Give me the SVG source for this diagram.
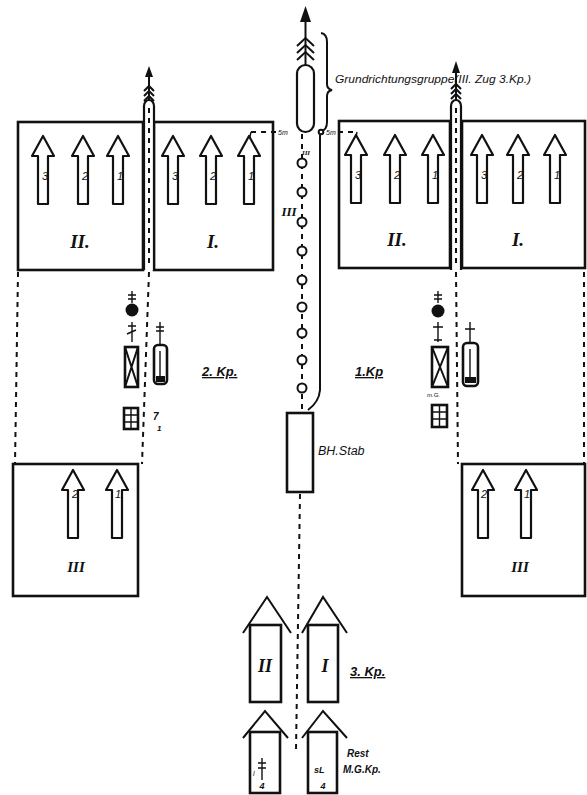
<svg xmlns="http://www.w3.org/2000/svg" width="587" height="795" viewBox="0 0 587 795">
<style>
.box{fill:none;stroke:#111;stroke-width:2.6}
.ln{fill:none;stroke:#111;stroke-width:2}
.thin{fill:none;stroke:#111;stroke-width:1.4}
.dash{fill:none;stroke:#111;stroke-width:2;stroke-dasharray:5 5}
.fill{fill:#111;stroke:none}
.cap{fill:#fff;stroke:#111;stroke-width:2.2}
.circ{fill:#fff;stroke:#111;stroke-width:2}
.lbl{font-family:"Liberation Sans",Arial,sans-serif;font-style:italic;fill:#111}
.num{font-family:"Liberation Sans",Arial,sans-serif;font-style:italic;font-size:11px;fill:#111;text-anchor:middle}
.rom{font-family:"Liberation Serif","Times New Roman",serif;font-style:italic;font-weight:bold;fill:#111;text-anchor:middle}
.kp{font-family:"Liberation Sans",Arial,sans-serif;font-style:italic;font-weight:bold;font-size:13px;fill:#111;text-decoration:underline}
</style>
<defs>
<path id="arr" d="M-5,68 V20 H-11 L0,0 L11,20 H5 V68 Z" fill="#fff" stroke="#111" stroke-width="2.2" stroke-linejoin="round"/>
<g id="feath" class="ln"><path d="M-5,5 L0,0 L5,5"/></g>
</defs>
<rect width="587" height="795" fill="#fff"/>

<g id="connectors">
<path class="dash" d="M18,272 L15,464"/>
<path class="dash" d="M149,272 L142,464"/>
<path class="dash" d="M456,272 L458,464"/>
<path class="dash" d="M584,272 L584,464"/>
<path class="dash" d="M302,134 L302,413" stroke-dasharray="3 5"/>
<path class="dash" d="M300,494 L296,750" stroke-dasharray="6 5"/>
<path class="dash" d="M251,132 H277" stroke-dasharray="4 3"/>
<path class="thin" d="M251,132 L249,141"/>
<path class="dash" d="M338,132 H357" stroke-dasharray="4 3"/>
<path class="thin" d="M357,132 L355,141"/>
<path class="ln" d="M320,135 V390 Q319,402 308,410"/>
</g>

<g id="kp2-zug2">
<rect class="box" x="18" y="122" width="125" height="148"/>
<use href="#arr" x="43" y="136"/><use href="#arr" x="83" y="136"/><use href="#arr" x="118" y="136"/>
<text class="num" x="45" y="180">3</text><text class="num" x="85" y="180">2</text><text class="num" x="120" y="180">1</text>
<text class="rom" x="80" y="248" font-size="19">II.</text>
</g>
<g id="kp2-zug1">
<rect class="box" x="154" y="122" width="119" height="148"/>
<use href="#arr" x="173" y="136"/><use href="#arr" x="211" y="136"/><use href="#arr" x="249" y="136"/>
<text class="num" x="175" y="180">3</text><text class="num" x="213" y="180">2</text><text class="num" x="251" y="180">1</text>
<text class="rom" x="213" y="248" font-size="19">I.</text>
</g>
<g id="kp2-spitze">
<path class="cap" d="M144,270 V106 A5,6 0 0 1 154,106 V270"/>
<path class="dash" d="M149,108 V268" stroke-width="1.2" stroke-dasharray="2 5"/>
<path class="ln" d="M149,100 V74"/>
<polygon class="fill" points="149,66 145,77 153,77"/>
<use href="#feath" x="149" y="86"/><use href="#feath" x="149" y="91"/><use href="#feath" x="149" y="96"/>
</g>

<g id="kp1-zug2">
<rect class="box" x="339" y="121" width="111" height="147"/>
<use href="#arr" x="356" y="135"/><use href="#arr" x="395" y="135"/><use href="#arr" x="433" y="135"/>
<text class="num" x="358" y="179">3</text><text class="num" x="397" y="179">2</text><text class="num" x="435" y="179">1</text>
<text class="rom" x="397" y="246" font-size="19">II.</text>
</g>
<g id="kp1-zug1">
<rect class="box" x="462" y="121" width="123" height="147"/>
<use href="#arr" x="482" y="135"/><use href="#arr" x="518" y="135"/><use href="#arr" x="555" y="135"/>
<text class="num" x="484" y="179">3</text><text class="num" x="520" y="179">2</text><text class="num" x="557" y="179">1</text>
<text class="rom" x="518" y="246" font-size="19">I.</text>
</g>
<g id="kp1-spitze">
<path class="cap" d="M451,270 V106 A5,6 0 0 1 461,106 V270"/>
<path class="dash" d="M456,108 V268" stroke-width="1.2" stroke-dasharray="2 5"/>
<path class="ln" d="M456,100 V70"/>
<polygon class="fill" points="456,61 452,73 460,73"/>
<use href="#feath" x="456" y="84"/><use href="#feath" x="456" y="89"/><use href="#feath" x="456" y="94"/>
</g>

<g id="grundrichtungsgruppe">
<rect class="cap" x="297" y="65" width="17" height="67" rx="8.5"/>
<path class="ln" d="M305.5,65 V18"/>
<polygon class="fill" points="305.5,6 300,22 311,22"/>
<path class="ln" d="M297,46 L305.5,38 L314,46 M297,53 L305.5,45 L314,53 M297,60 L305.5,52 L314,60"/>
<path class="ln" d="M321,33 Q327,34 327,42 V84 Q327,89 332,90 Q327,91 327,96 V122 Q327,130 321,131"/>
<text class="lbl" x="335" y="83" font-size="11" textLength="196" lengthAdjust="spacingAndGlyphs">Grundrichtungsgruppe(III. Zug 3.Kp.)</text>
<text class="lbl" x="278" y="135" font-size="7">5m</text>
<circle class="circ" cx="321" cy="132" r="2.3" stroke-width="1.4"/>
<text class="lbl" x="326" y="135" font-size="7">5m</text>
</g>

<g id="zug3-kolonne">
<circle class="circ" cx="302" cy="163" r="4.5"/>
<circle class="circ" cx="302" cy="192" r="4.5"/>
<circle class="circ" cx="302" cy="222" r="4.5"/>
<circle class="circ" cx="302" cy="251" r="4.5"/>
<circle class="circ" cx="302" cy="280" r="4.5"/>
<circle class="circ" cx="302" cy="307" r="4.5"/>
<circle class="circ" cx="302" cy="333" r="4.5"/>
<circle class="circ" cx="302" cy="360" r="4.5"/>
<circle class="circ" cx="302" cy="388" r="4.5"/>
<text class="rom" x="289" y="216" font-size="13">III</text>
<text class="rom" x="306" y="155" font-size="7">III</text>
</g>

<g id="bh-stab">
<rect class="box" x="287" y="413" width="26" height="79"/>
<text class="lbl" x="318" y="455" font-size="12.5">BH.Stab</text>
</g>

<g id="kp2-stab">
<path class="thin" d="M132,291 V303 M128,295 H136 M128,299 H136"/>
<circle class="fill" cx="132" cy="310" r="6.5"/>
<path class="thin" d="M132,322 V342 M128,326 H136 M127,334 L136,330"/>
<rect class="box" x="125" y="347" width="13" height="40"/>
<path class="ln" d="M125,347 L138,387 M138,347 L125,387"/>
<rect class="box" x="124" y="408" width="14" height="21" stroke-width="2"/>
<path class="thin" d="M131,408 V429 M124,415 H138 M124,422 H138"/>
<path class="thin" d="M160,322 V345 M156,327 H164 M156,331 H164"/>
<rect class="box" x="154" y="345" width="13" height="39" rx="4" stroke-width="2.2"/>
<path class="thin" d="M160,351 V376"/>
<rect class="fill" x="156" y="376" width="9" height="6"/>
<text class="lbl" x="153" y="420" font-size="10" font-weight="bold">7</text>
<text class="lbl" x="157" y="431" font-size="8" font-weight="bold">1</text>
<text class="kp" x="202" y="376">2. Kp.</text>
</g>

<g id="kp1-stab">
<path class="thin" d="M438,291 V303 M434,295 H442 M434,299 H442"/>
<circle class="fill" cx="438" cy="311" r="6.5"/>
<path class="thin" d="M438,322 V342 M433,327 H443 M434,340 H442"/>
<rect class="box" x="432" y="347" width="16" height="40"/>
<path class="ln" d="M432,347 L448,387 M448,347 L432,387"/>
<text class="lbl" x="427" y="397" font-size="6">m.G.</text>
<rect class="box" x="432" y="405" width="15" height="22" stroke-width="2"/>
<path class="thin" d="M439.5,405 V427 M432,412 H447 M432,419 H447"/>
<path class="thin" d="M470,322 V343 M465,329 H475"/>
<rect class="box" x="463" y="343" width="15" height="43" rx="4" stroke-width="2.2"/>
<path class="thin" d="M470,349 V377"/>
<rect class="fill" x="465" y="377" width="11" height="6"/>
<text class="kp" x="355" y="376">1.Kp</text>
</g>

<g id="kp2-zug3">
<rect class="box" x="13" y="464" width="125" height="132"/>
<use href="#arr" x="73" y="470"/><use href="#arr" x="117" y="470"/>
<text class="num" x="75" y="498">2</text><text class="num" x="118" y="498">1</text>
<text class="rom" x="76" y="572" font-size="15">III</text>
</g>

<g id="kp1-zug3">
<rect class="box" x="462" y="464" width="123" height="132"/>
<use href="#arr" x="483" y="470"/><use href="#arr" x="526" y="470"/>
<text class="num" x="484" y="498">2</text><text class="num" x="527" y="498">1</text>
<text class="rom" x="520" y="572" font-size="15">III</text>
</g>

<g id="kp3-zug2">
<path class="ln" d="M243,633 L267,597 L291,633" stroke-width="2.4"/>
<rect class="box" x="250" y="625" width="31" height="77" fill="#fff"/>
<text class="rom" x="265" y="672" font-size="18">II</text>
</g>
<g id="kp3-zug1">
<path class="ln" d="M302,633 L323,597 L347,633" stroke-width="2.4"/>
<rect class="box" x="308" y="625" width="30" height="77"/>
<text class="rom" x="325" y="672" font-size="18">I</text>
</g>
<text class="kp" x="350" y="676" font-size="15">3. Kp.</text>

<g id="mg-rest-links">
<path class="ln" d="M243,738 L265,711 L288,738" stroke-width="2.4"/>
<rect class="box" x="250" y="732" width="30" height="61"/>
<path class="thin" d="M262,758 V780 M258,763 H266 M258,768 H266"/>
<text class="lbl" x="253" y="776" font-size="7">l</text>
<text class="lbl" x="262" y="789" font-size="9" font-weight="bold" text-anchor="middle">4</text>
</g>
<g id="mg-rest-rechts">
<path class="ln" d="M302,738 L323,711 L347,738" stroke-width="2.4"/>
<rect class="box" x="308" y="732" width="29" height="61"/>
<text class="lbl" x="314" y="773" font-size="9" font-weight="bold">sL</text>
<text class="lbl" x="323" y="789" font-size="9" font-weight="bold" text-anchor="middle">4</text>
</g>
<text class="lbl" x="347" y="757" font-size="10" font-weight="bold">Rest</text>
<text class="lbl" x="343" y="773" font-size="10" font-weight="bold">M.G.Kp.</text>
</svg>
